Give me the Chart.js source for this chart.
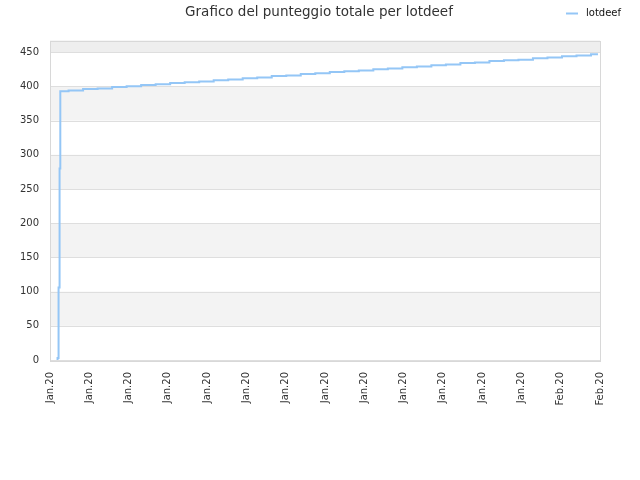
<!DOCTYPE html>
<html>
<head>
<meta charset="utf-8">
<script src="https://cdn.jsdelivr.net/npm/chart.js@4"></script>
<style>
  html, body { margin: 0; padding: 0; background: #fff; }
  #wrap { width: 640px; height: 480px; }
</style>
</head>
<body>
<div id="wrap"><canvas id="scoreChart" width="640" height="480"></canvas></div>
<script>
// --- DATA ---
const chartTitle  = 'Grafico del punteggio totale per lotdeef';
const seriesName  = 'lotdeef';
// x = day offset (one step per day), first few are intraday jumps
const dayX = [-0.81, -0.76, -0.69, -0.62, -0.57,
  0, 1, 2, 3, 4, 5, 6, 7, 8, 9, 10, 11, 12, 13, 14, 15, 16, 17, 18,
  19, 20, 21, 22, 23, 24, 25, 26, 27, 28, 29, 30, 31, 32, 33, 34, 35, 36, 36.48];
const totalScore = [0, 3, 106, 280, 393,
  394, 396, 397, 399, 400, 402, 403, 405, 406, 407, 409, 410, 412, 413, 415, 416, 418, 419,
  421, 422, 423, 425, 426, 428, 429, 431, 432, 434, 435, 437, 438, 439, 441, 442, 444, 445, 447, 447];
const xTickLabels = ['Jan.20', 'Jan.20', 'Jan.20', 'Jan.20', 'Jan.20', 'Jan.20', 'Jan.20',
  'Jan.20', 'Jan.20', 'Jan.20', 'Jan.20', 'Jan.20', 'Jan.20', 'Feb.20', 'Feb.20'];
const yTicks = [0, 50, 100, 150, 200, 250, 300, 350, 400, 450];

const X_MIN = -1.28, X_MAX = 36.62;
const Y_MAX = 467;
const lineColor = 'rgb(148,198,246)';
const tickFont = { family: '"DejaVu Sans"', size: 10 };

// alternating bands, plot frame, title and legend (title + legend share one row)
const bandsPlugin = {
  id: 'bands',
  beforeDatasetsDraw(chart) {
    const { ctx, chartArea: a, scales: { y } } = chart;
    ctx.save();
    const bounds = yTicks.concat([Y_MAX]);
    for (let i = 0; i < bounds.length - 1; i++) {
      if (i % 2 === 0) continue;
      const top = y.getPixelForValue(bounds[i + 1]);
      const bot = y.getPixelForValue(bounds[i]);
      ctx.fillStyle = i === bounds.length - 2 ? '#eeeeee' : '#f3f3f3';
      ctx.fillRect(a.left, top, a.right - a.left, bot - top);
    }
    ctx.strokeStyle = '#dedede';
    ctx.lineWidth = 1;
    yTicks.forEach(v => {
      const py = Math.round(y.getPixelForValue(v)) + 0.5;
      ctx.beginPath(); ctx.moveTo(a.left, py); ctx.lineTo(a.right, py); ctx.stroke();
    });
    ctx.strokeStyle = '#d8d8d8';
    ctx.strokeRect(Math.round(a.left) + 0.5, Math.round(a.top) + 0.5,
                   Math.round(a.right - a.left), Math.round(a.bottom - a.top));
    ctx.restore();
  },
  afterDraw(chart) {
    const { ctx } = chart;
    ctx.save();
    ctx.fillStyle = '#333';
    ctx.font = '13.5px "DejaVu Sans"';
    ctx.textAlign = 'center';
    ctx.textBaseline = 'middle';
    ctx.fillText(chartTitle, 319, 12);

    // legend
    const ds = chart.data.datasets[0];
    ctx.strokeStyle = ds.borderColor;
    ctx.lineWidth = 2;
    ctx.beginPath(); ctx.moveTo(566, 13.5); ctx.lineTo(578, 13.5); ctx.stroke();
    ctx.fillStyle = '#111';
    ctx.font = '10px "DejaVu Sans"';
    ctx.textAlign = 'left';
    ctx.fillText(ds.label, 586, 13);
    ctx.restore();
  }
};

new Chart(document.getElementById('scoreChart'), {
  type: 'line',
  data: {
    datasets: [{
      label: seriesName,
      data: dayX.map((x, i) => ({ x, y: totalScore[i] })),
      borderColor: lineColor,
      backgroundColor: lineColor,
      borderWidth: 2,
      pointRadius: 0,
      stepped: true,
      fill: false
    }]
  },
  options: {
    responsive: false,
    animation: false,
    layout: { padding: { top: 40.5, right: 40, left: 0, bottom: 0 } },
    plugins: {
      title: { display: false },
      tooltip: { enabled: false },
      legend: { display: false }
    },
    scales: {
      x: {
        type: 'linear',
        min: X_MIN,
        max: X_MAX,
        afterBuildTicks(scale) {
          scale.ticks = xTickLabels.map((_, i) => ({ value: X_MIN + i * (X_MAX - X_MIN) / (xTickLabels.length - 1) }));
        },
        afterFit(scale) { scale.height = 120; },
        grid: { display: false, drawTicks: false },
        border: { display: false },
        ticks: {
          autoSkip: false,
          minRotation: 90,
          maxRotation: 90,
          padding: 12,
          color: '#333',
          font: tickFont,
          callback: (v, i) => xTickLabels[i]
        }
      },
      y: {
        min: 0,
        max: Y_MAX,
        afterBuildTicks(scale) {
          scale.ticks = yTicks.map(v => ({ value: v }));
        },
        afterFit(scale) { scale.width = 50; },
        grid: { display: false, drawTicks: false },
        border: { display: false },
        ticks: {
          padding: 11,
          color: '#333',
          font: tickFont
        }
      }
    }
  },
  plugins: [bandsPlugin]
});
</script>
</body>
</html>
